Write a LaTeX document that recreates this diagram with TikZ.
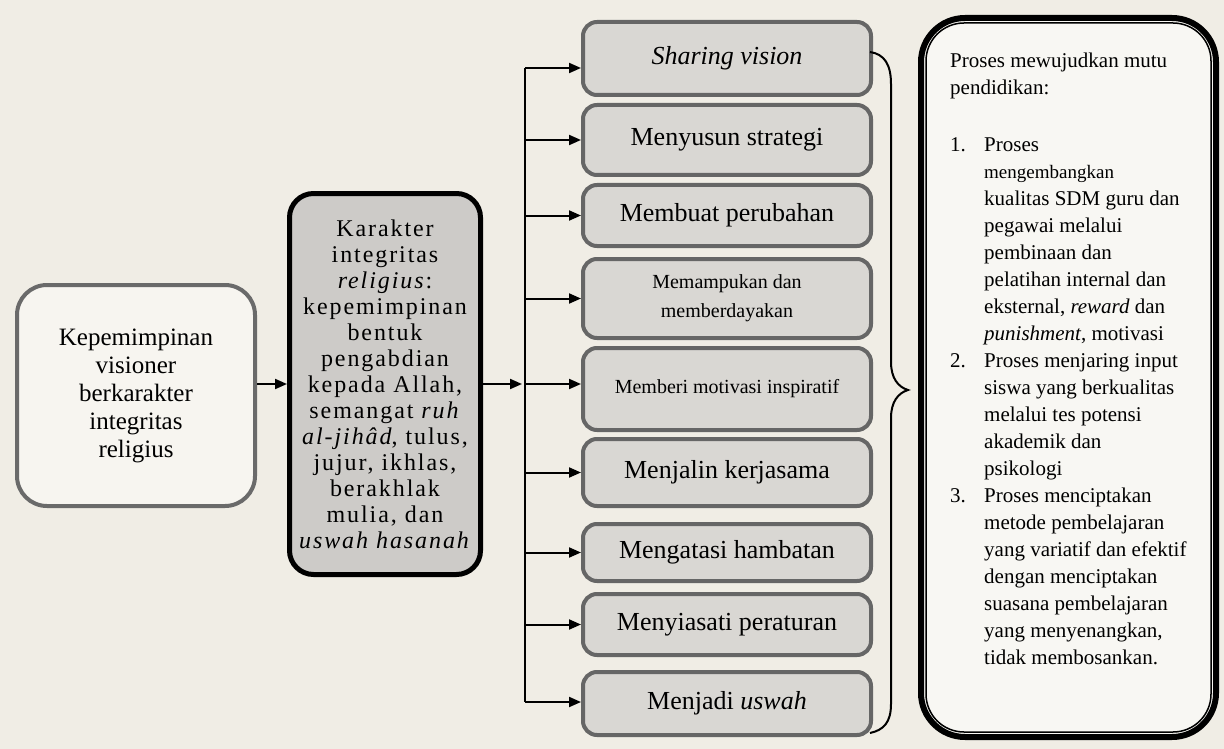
\documentclass[tikz,border=0pt]{standalone}
\usepackage{fontspec}
\setmainfont{Liberation Serif}
\newfontfamily\spacedfont[LetterSpace=8]{Liberation Serif}
\usetikzlibrary{arrows.meta,calc}
\definecolor{paper}{HTML}{F0EDE5}
\definecolor{lfill}{HTML}{F7F5F0}
\definecolor{lborder}{HTML}{6A6A6A}
\definecolor{mfill}{HTML}{CDCBC8}
\definecolor{rfill}{HTML}{D9D7D3}
\definecolor{rborder}{HTML}{666666}
\definecolor{pfill}{HTML}{F8F7F3}
\tikzset{
  lbox/.style={draw=lborder, line width=4pt, fill=lfill, rounded corners=30pt, inner sep=0pt, align=center, font=\fontsize{25}{28}\selectfont},
  mbox/.style={draw=black, line width=5pt, fill=mfill, rounded corners=24pt, inner sep=0pt, align=center, font=\spacedfont\fontsize{24}{26}\selectfont},
  rbox/.style={draw=rborder, line width=4pt, fill=rfill, rounded corners=14pt, minimum width=288pt, inner sep=0pt, align=center, font=\fontsize{26}{30}\selectfont},
  smallbox/.style={rbox, font=\fontsize{20}{29}\selectfont},
  pbox/.style={draw=black, line width=6pt, fill=pfill, rounded corners=44pt, inner sep=0pt},
  conn/.style={line width=2pt, draw=black},
  arr/.style={conn, -{Triangle[length=12pt,width=10pt]}},
}
\newcommand{\smallword}[1]{{\fontsize{19pt}{27pt}\selectfont #1}}
\begin{document}
\begin{tikzpicture}[x=1pt,y=-1pt]
\useasboundingbox (0,0) rectangle (1224,749);
\fill[paper] (0,0) rectangle (1224,749);

% left box
\node[lbox, minimum width=238pt, minimum height=221pt] (L) at (136,395.5)
  {Kepemimpinan\\ visioner\\ berkarakter\\ integritas\\ religius};

% middle box
\node[mbox, minimum width=191pt, minimum height=381pt] (M) at (385,384)
  {Karakter\\ integritas\\ \textit{religius}:\\ kepemimpinan\\ bentuk\\ pengabdian\\ kepada Allah,\\ semangat \textit{ruh}\\ \textit{al-jihâd}, tulus,\\ jujur, ikhlas,\\ berakhlak\\ mulia, dan\\ \textit{uswah hasanah}};

% right column boxes
\node[rbox, minimum height=73pt] (b1) at (727,58.5) {\textit{Sharing vision}};
\node[rbox, minimum height=70pt] (b2) at (727,140) {Menyusun strategi};
\node[rbox, minimum height=61pt] (b3) at (727,215.5) {Membuat perubahan};
\node[smallbox, minimum height=79pt] (b4) at (727,298.5) {Memampukan dan\\ memberdayakan};
\node[smallbox, minimum height=82pt] (b5) at (727,389) {Memberi motivasi inspiratif};
\node[rbox, minimum height=67pt] (b6) at (727,472.5) {Menjalin kerjasama};
\node[rbox, minimum height=57pt] (b7) at (727,552.5) {Mengatasi hambatan};
\node[rbox, minimum height=61pt] (b8) at (727,624.5) {Menyiasati peraturan};
\node[rbox, minimum height=63pt] (b9) at (727,703.5) {Menjadi \textit{uswah}};

% bus
\coordinate (busTop) at (525,68);
\coordinate (busBot) at (525,702);
\coordinate (busIn) at (525,384);
\draw[conn] (busTop) -- (busBot);
\draw[arr] (busTop) -- (busTop -| b1.west);
\foreach \b in {b2,b3,b4,b6,b7,b8}
  \draw[arr] (\b.west -| busTop) -- (\b.west);
\draw[arr] (busIn) -- (busIn -| b5.west);
\draw[arr] (busBot) -- (busBot -| b9.west);
\draw[arr, shorten >=3pt] (M.east) -- (busIn);
\draw[arr] (L.east |- M.west) -- (M.west);

% brace
\draw[line width=2pt] (870,52) .. controls (884,54) and (891,64) .. (891,84)
  -- (891,362) .. controls (891,378) and (898,387) .. (908,390)
  .. controls (898,393) and (891,402) .. (891,418)
  -- (891,704) .. controls (891,722) and (884,730) .. (870,733);

% right process box
\node[pbox, minimum width=295pt, minimum height=719pt] (R) at (1068.5,377.5) {};
\draw[line width=1.5pt, rounded corners=38pt]
  ($(R.north west)+(8,8)$) rectangle ($(R.south east)+(-8,-8)$);

\node[anchor=north west, inner sep=0pt, align=left, font=\fontsize{21}{27}\selectfont] (Rt) at (950,53)
  {Proses mewujudkan mutu\\
   pendidikan:\\[30pt]
   \makebox[34pt][l]{1.}Proses\\
   \hspace*{34pt}\smallword{mengembangkan}\\
   \hspace*{34pt}kualitas SDM guru dan\\
   \hspace*{34pt}pegawai melalui\\
   \hspace*{34pt}pembinaan dan\\
   \hspace*{34pt}pelatihan internal dan\\
   \hspace*{34pt}eksternal, \textit{reward} dan\\
   \hspace*{34pt}\textit{punishment}, motivasi\\
   \makebox[34pt][l]{2.}Proses menjaring input\\
   \hspace*{34pt}siswa yang berkualitas\\
   \hspace*{34pt}melalui tes potensi\\
   \hspace*{34pt}akademik dan\\
   \hspace*{34pt}psikologi\\
   \makebox[34pt][l]{3.}Proses menciptakan\\
   \hspace*{34pt}metode pembelajaran\\
   \hspace*{34pt}yang variatif dan efektif\\
   \hspace*{34pt}dengan menciptakan\\
   \hspace*{34pt}suasana pembelajaran\\
   \hspace*{34pt}yang menyenangkan,\\
   \hspace*{34pt}tidak membosankan.};
\end{tikzpicture}
\end{document}
